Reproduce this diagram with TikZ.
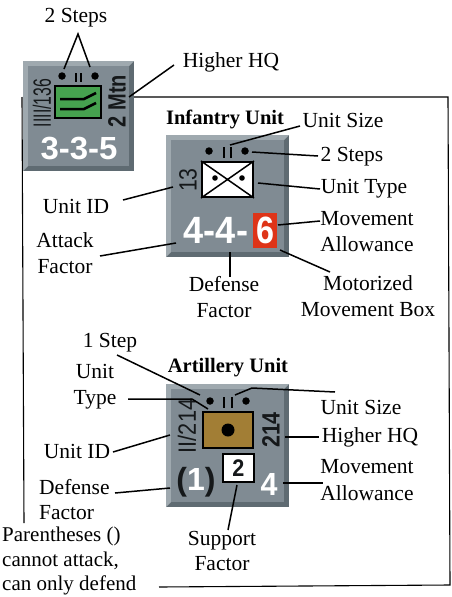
\documentclass[tikz,border=0pt]{standalone}
\usepackage{fontspec}
\usepackage{graphicx}
\setmainfont{Liberation Serif}
\setsansfont{Liberation Sans}
\definecolor{cgrey}{HTML}{808B93}
\definecolor{cedgeL}{HTML}{9FA9AF}
\definecolor{cedgeD}{HTML}{5F6B72}
\definecolor{cgreen}{HTML}{46A24F}
\definecolor{cbrown}{HTML}{A27E35}
\definecolor{cred}{HTML}{DE3418}
\definecolor{cdark}{HTML}{15181A}
\tikzset{
 x=1pt,y=-1pt,
 lbl/.style={font=\fontsize{21.5}{25}\selectfont,align=center,inner sep=0pt,text=black},
 ttl/.style={font=\bfseries\fontsize{20.5}{24}\selectfont,inner sep=0pt,text=black},
 lead/.style={draw=black,line width=1.5pt},
 frameline/.style={draw=black,line width=1.1pt},
 dot/.style={circle,fill=black,inner sep=0pt,minimum size=7.5pt},
 cnt/.style={inner sep=0pt,text=white,font=\sffamily\bfseries\fontsize{32}{32}\selectfont},
 cdk/.style={inner sep=0pt,text=cdark,font=\sffamily\fontsize{25}{25}\selectfont},
 cdb/.style={inner sep=0pt,text=cdark,font=\sffamily\bfseries\fontsize{25}{25}\selectfont},
}
\newcommand{\counterbox}[4]{%
 \fill[cedgeD] (#1,#2) rectangle (#3,#4);
 \fill[cedgeL] (#1,#2) -- (#3,#2) -- (#3-5,#2+5) -- (#1+5,#2+5) -- (#1+5,#4-5) -- (#1,#4) -- cycle;
 \fill[cgrey] (#1+5,#2+5) rectangle (#3-5,#4-5);
}
\newcommand{\narrow}[2]{\scalebox{#1}[1]{#2}}
\begin{document}
\begin{tikzpicture}
\useasboundingbox (0,0) rectangle (452,597);
\fill[white] (0,0) rectangle (452,597);
% frame
\draw[frameline] (133,97) -- (448,97) -- (450,585) -- (159,587);
\draw[frameline] (22,97) -- (24,523);
% counter 1
\counterbox{23}{61}{134}{171}
\node[dot] (a1) at (62,76) {};
\node[dot] (a2) at (95,76) {};
\draw[black,line width=1.5pt] (76,73)--(76,82) (81,73)--(81,82);
\node[draw=black,line width=1.5pt,fill=cgreen,minimum width=46pt,minimum height=32pt,inner sep=0pt] (atype) at (78,102) {};
\draw[black,line width=2.5pt] (60,99)--(84,99)--(96,93) (60,109)--(84,109)--(96,103);
\node[cdk,rotate=90] (aid) at (42,103) {\narrow{.63}{IIII/136}};
\node[cdb,rotate=90] (ahq) at (117,101) {\narrow{.8}{2 Mtn}};
\node[cnt] (anum) at (79,149) {\narrow{1.03}{3-3-5}};
\node[lbl] (l2s) at (76,18) {2 Steps};
\node[lbl] (lhq) at (231,62) {Higher HQ};
\coordinate (pk) at (78,34);
\draw[lead] (64,69) -- (pk) -- (90,67);
\draw[lead] (129,97) -- (174,65);
% counter 2
\node[ttl] (tinf) at (225,119) {Infantry Unit};
\counterbox{166}{135}{289}{257}
\node[dot] (b1) at (209,151) {};
\node[dot] (b2) at (245,151) {};
\draw[black,line width=1.5pt] (224,147)--(224,158) (231,147)--(231,158);
\node[draw=black,line width=2pt,fill=white,minimum width=51pt,minimum height=35pt,inner sep=0pt] (btype) at (227.5,179.5) {};
\draw[black,line width=1.5pt] (btype.north west)--(btype.south east) (btype.north east)--(btype.south west);
\fill[black] (215,178) circle (2.8pt) (242,178) circle (2.8pt);
\node[cdk,rotate=90] (bid) at (188,180) {\narrow{.85}{13}};
\fill[cred] (253,213) rectangle (277,248);
\node[cnt,font=\sffamily\bfseries\fontsize{38}{38}\selectfont] (bnum) at (216,230) {\narrow{.95}{4-4-}};
\node[cnt,font=\sffamily\bfseries\fontsize{38}{38}\selectfont] (bmv) at (265,230) {\narrow{.85}{6}};
\node[lbl] (lus) at (343,120) {Unit Size};
\node[lbl] (l2b) at (352,157) {2 Steps};
\node[lbl] (lut) at (364,189) {Unit Type};
\node[lbl,font=\fontsize{21.5}{26.5}\selectfont] (lma) at (367,231.5) {Movement\\Allowance};
\node[lbl,font=\fontsize{21.5}{26.5}\selectfont] (lmb) at (368,296) {Motorized\\Movement Box};
\node[lbl,font=\fontsize{21.5}{26.5}\selectfont] (ldf) at (224,297) {Defense\\Factor};
\node[lbl] (luid) at (76,206) {Unit ID};
\node[lbl,font=\fontsize{21.5}{26.5}\selectfont] (laf) at (65,253) {Attack\\Factor};
\draw[lead] (230,145) -- (300,126);
\draw[lead] (252,152) -- (318,156);
\draw[lead] (258,183) -- (320,189);
\draw[lead] (278,225) -- (320,221);
\draw[lead] (280,250) -- (330,272);
\draw[lead] (230,252) -- (230,277);
\draw[lead] (123,200) -- (173,187);
\draw[lead] (100,256) -- (176,243);
% counter 3
\node[ttl] (tart) at (228,368) {Artillery Unit};
\counterbox{166}{384}{289}{507}
\node[dot] (c1) at (210,401) {};
\node[dot] (c2) at (246,401) {};
\draw[black,line width=1.5pt] (224,397)--(224,408) (232,397)--(232,408);
\node[draw=black,line width=1.5pt,fill=cbrown,minimum width=50pt,minimum height=36pt,inner sep=0pt] (ctype) at (228,430) {};
\fill[black] (228,430) circle (6.5pt);
\node[cdk,rotate=90] (cid) at (187,426) {\narrow{.87}{II/214}};
\node[cdb,rotate=90] (chq) at (271,430) {\narrow{.86}{214}};
\node[draw=black,line width=1.5pt,fill=white,minimum width=31pt,minimum height=28pt,inner sep=0pt,text=cdark,font=\sffamily\bfseries\fontsize{24}{24}\selectfont] (csup) at (238.5,468) {\narrow{.9}{2}};
\node[cnt] (cmv) at (269,484) {\narrow{.95}{4}};
\node[inner sep=0pt,font=\sffamily\bfseries\fontsize{32}{32}\selectfont,text=cdark] (cdf) at (196,482) {(\textcolor{white}{1})};
\node[lbl] (l1s) at (110,343) {1 Step};
\node[lbl,font=\fontsize{21.5}{26.5}\selectfont] (lty) at (95,386.5) {Unit\\Type};
\node[lbl] (lus2) at (361,407) {Unit Size};
\node[lbl] (lhq2) at (370,437) {Higher HQ};
\node[lbl,font=\fontsize{21.5}{26.5}\selectfont] (lma2) at (367,480) {Movement\\Allowance};
\node[lbl] (luid2) at (77,451) {Unit ID};
\node[lbl,align=left,anchor=west] (ldf2) at (39,500) {Defense\\Factor};
\node[lbl,align=left,anchor=west,font=\fontsize{21}{24.5}\selectfont] (lpar) at (2,561) {Parentheses ()\\cannot attack,\\can only defend};
\node[lbl] (lsf) at (222,550.5) {Support\\Factor};
\draw[lead] (117,355) -- (200,395);
\draw[lead] (128,399) -- (192,399) -- (208,409);
\draw[lead] (235,395) -- (252,388) -- (335,392);
\draw[lead] (285,437) -- (319,437);
\draw[lead] (113,452) -- (170,435);
\draw[lead] (115,493) -- (170,488);
\draw[lead] (283,483) -- (323,483);
\draw[lead] (237,485) -- (228,530);
\end{tikzpicture}
\end{document}
